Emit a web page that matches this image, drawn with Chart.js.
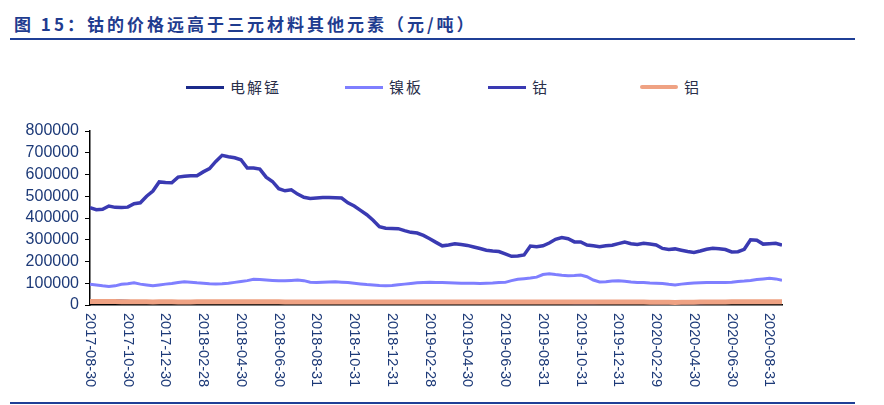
<!DOCTYPE html>
<html>
<head>
<meta charset="utf-8">
<script src="https://cdn.jsdelivr.net/npm/chart.js@4.4.1/dist/chart.umd.min.js"></script>
<style>
  html, body { margin: 0; padding: 0; background: #fff; }
  #wrap { position: relative; width: 884px; height: 405px; overflow: hidden; }
  #title { position: absolute; left: 14px; top: 13px; font: bold 17px "Noto Sans CJK SC", "Liberation Sans", sans-serif; color: #1f3c8f; letter-spacing: 3px; line-height: 22px; white-space: nowrap; }
  .rule { position: absolute; left: 10px; width: 845px; height: 2px; background: #1f3f96; }
  #chart { position: absolute; left: 0; top: 0; }
  .lg { position: absolute; top: 78px; height: 18px; font: 15px "Noto Sans CJK SC", sans-serif; color: #2a2f4a; line-height: 18px; white-space: nowrap; }
  .lg span.ln { position: absolute; left: 0; top: 8px; width: 38px; height: 3px; }
  .lg span.tx { position: absolute; left: 44px; top: 0; letter-spacing: 2px; }
</style>
</head>
<body>
<div id="wrap">
  <div id="title">图 15：钴的价格远高于三元材料其他元素（元/吨）</div>
  <div class="rule" style="top:38px"></div>
  <div class="rule" style="top:402px"></div>
  <div id="legend"></div>
  <canvas id="chart" width="884" height="405"></canvas>
</div>
<script>
// ---- data ----
const tickLabels = ['2017-08-30','2017-10-30','2017-12-30','2018-02-28','2018-04-30','2018-06-30','2018-08-31','2018-10-31','2018-12-31','2019-02-28','2019-04-30','2019-06-30','2019-08-31','2019-10-31','2019-12-31','2020-02-29','2020-04-30','2020-06-30','2020-08-31'];
const pointsPerTick = 6;
const seriesNames = ['电解锰', '镍板', '钴', '铝'];
const seriesColors = ['#1b2a8a', '#7f7fff', '#3a3ab2', '#efa283'];

const cobalt = [
 447000,438000,440000,455000,449000,448000,450000,466000,470000,500000,
 524000,566000,563000,562000,588000,592000,594000,594000,612000,627000,
 660000,688000,682000,677000,668000,630000,630000,625000,588000,568000,
 535000,525000,530000,510000,495000,490000,492000,494000,494000,493000,
 492000,470000,455000,435000,415000,390000,360000,353000,352000,351000,
 342000,334000,331000,320000,305000,288000,272000,276000,282000,278000,
 274000,267000,260000,252000,248000,246000,235000,224000,225000,230000,
 271000,268000,272000,285000,302000,310000,305000,290000,290000,276000,
 272000,268000,272000,275000,282000,289000,282000,278000,284000,280000,
 276000,260000,255000,258000,252000,246000,242000,248000,256000,261000,
 259000,255000,244000,245000,256000,300000,298000,280000,282000,284000,
 275000
];
const nickel = [
 95000,92000,88000,85000,88000,95000,98000,102000,96000,92000,
 88000,92000,96000,99000,103000,107000,105000,102000,100000,98000,
 97000,98000,100000,104000,108000,112000,118000,117000,115000,113000,
 111000,111000,113000,115000,112000,105000,103000,105000,106000,107000,
 105000,103000,100000,97000,94000,92000,90000,89000,90000,93000,
 96000,99000,102000,104000,105000,104000,103000,102000,101000,100000,
 100000,100000,99000,100000,101000,103000,104000,112000,118000,121000,
 124000,128000,140000,144000,140000,137000,135000,136000,138000,130000,
 115000,106000,107000,110000,111000,109000,106000,104000,103000,101000,
 100000,99000,95000,92000,96000,99000,101000,102000,103000,103000,
 104000,104000,105000,108000,110000,113000,117000,120000,123000,120000,
 114000
];
const aluminium = [
 16000,16300,16600,16400,15900,15400,15000,14800,14600,14400,
 14300,14500,14600,14500,14300,14200,14300,14500,14600,14800,
 14900,14700,14600,14600,14800,14900,14700,14600,14500,14400,
 14400,14300,14200,14100,14000,14000,13900,13800,13800,13700,
 13700,13600,13600,13500,13500,13400,13400,13500,13600,13700,
 13800,13900,14000,14000,14000,13900,13900,14000,14100,14200,
 14100,14000,13900,13900,14000,14100,14200,14100,14000,13900,
 13900,14000,14000,13900,13800,13800,13900,14000,14100,14200,
 14200,14100,14000,14000,14100,14200,14100,13900,13600,13200,
 12800,12400,12200,12000,12200,12600,13000,13400,13700,14000,
 14200,14300,14400,14500,14500,14600,14600,14500,14400,14400,
 14400
];
const manganese = [
 15500,17000,19000,20000,19500,18500,17000,15500,14500,14000,
 13800,13500,13400,13500,13600,13800,14000,14200,14300,14200,
 14000,13900,13800,13800,13700,13600,13600,13500,13500,13400,
 13300,13200,13200,13300,13400,13500,13500,13400,13300,13200,
 13200,13100,13000,12900,12800,12800,12900,13000,13100,13200,
 13300,13300,13200,13100,13000,12900,12800,12700,12600,12500,
 12400,12300,12200,12100,12000,11900,11900,11800,11800,11700,
 11600,11500,11400,11300,11200,11100,11000,10900,10800,10800,
 10900,11000,11100,11200,11200,11300,11300,11200,11100,11000,
 10800,10600,10500,10400,10400,10500,10600,10800,11000,11200,
 11300,11400,11500,11600,11700,11800,11900,12000,12100,12200,
 12300
];
const yTicks = [0,100000,200000,300000,400000,500000,600000,700000,800000];

// ---- legend (HTML) ----
const legendX = [186, 345, 488, 640];
const legendEl = document.getElementById('legend');
seriesNames.forEach((n, i) => {
  const d = document.createElement('div');
  d.className = 'lg';
  d.style.left = legendX[i] + 'px';
  d.innerHTML = '<span class="ln" style="background:' + seriesColors[i] + (i === 3 ? ';height:4px;top:7px;border-radius:2px' : '') + '"></span><span class="tx">' + n + '</span>';
  legendEl.appendChild(d);
});

// ---- chart ----
const toPoints = arr => arr.map((v, i) => ({ x: i, y: v }));
const seriesData = [manganese, nickel, cobalt, aluminium];
const widths = [3, 3, 3.5, 5];
const orders = [3, 2, 1, 0];

const xLabelPlugin = {
  id: 'xLabels',
  afterDraw(chart) {
    const ctx = chart.ctx;
    const xs = chart.scales.x;
    const top = chart.chartArea.bottom + 8;
    ctx.save();
    ctx.fillStyle = '#1d3a78';
    ctx.font = '14.5px "Liberation Sans", Arial, sans-serif';
    ctx.textAlign = 'left';
    ctx.textBaseline = 'middle';
    tickLabels.forEach((lab, k) => {
      const x = xs.getPixelForValue(k * pointsPerTick);
      ctx.save();
      ctx.translate(x, top);
      ctx.rotate(Math.PI / 2);
      ctx.fillText(lab, 0, 0);
      ctx.restore();
    });
    ctx.restore();
  }
};

new Chart(document.getElementById('chart'), {
  type: 'line',
  data: {
    datasets: seriesNames.map((n, i) => ({
      label: n,
      data: toPoints(seriesData[i]),
      borderColor: seriesColors[i],
      backgroundColor: seriesColors[i],
      borderWidth: widths[i],
      pointRadius: 0,
      tension: 0,
      order: orders[i]
    }))
  },
  options: {
    responsive: false,
    animation: false,
    layout: { padding: { left: 10, top: 131, right: 102, bottom: 0 } },
    plugins: { legend: { display: false }, tooltip: { enabled: false } },
    scales: {
      x: {
        type: 'linear',
        min: 0,
        max: cobalt.length - 1,
        afterFit: s => { s.height = 100; },
        ticks: { display: false },
        grid: { display: false },
        border: { display: true, color: '#000', width: 1.5 }
      },
      y: {
        min: 0,
        max: 800000,
        afterFit: s => { s.width = 80; },
        afterBuildTicks: s => { s.ticks = yTicks.map(v => ({ value: v })); },
        ticks: {
          color: '#1d3a78',
          autoSkip: false,
          font: { size: 16, family: '"Liberation Sans", Arial, sans-serif' },
          padding: 6,
          callback: v => String(v)
        },
        grid: { display: true, drawOnChartArea: false, drawTicks: true, tickLength: 5, color: '#000' },
        border: { display: true, color: '#000', width: 1.5 }
      }
    }
  },
  plugins: [xLabelPlugin]
});
</script>
</body>
</html>
